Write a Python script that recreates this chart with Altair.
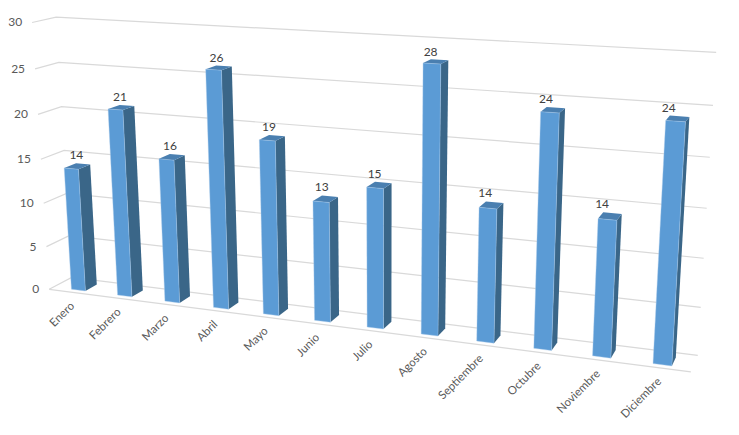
import altair as alt
import numpy as np
import pandas as pd

months = ["Enero", "Febrero", "Marzo", "Abril", "Mayo", "Junio", "Julio", "Agosto",
          "Septiembre", "Octubre", "Noviembre", "Diciembre"]
values = [14, 21, 16, 26, 19, 13, 15, 28, 14, 24, 14, 24]
ticks = [0, 5, 10, 15, 20, 25, 30]

# camera calibration of the 3-D box: (across, level 0..1, depth) -> screen
box3d = [(0,0,0),(0,0,1),(1,0,0),(1,0,1),(0,1,0),(0,1,1),(1,1,1),
         (0,.5,0),(0,.5,1),(1,.5,1)]
box2d = [(49,289),(72,278),(691,372),(698,356),(32,23),(56,17),(717,53),
         (41,159),(64,150),(705.5,207)]

A, b = [], []
for (X, Y, Z), (sx, sy) in zip(box3d, box2d):
    A.append([X, Y, Z, 1, 0, 0, 0, 0, -sx*X, -sx*Y, -sx*Z]); b.append(sx)
    A.append([0, 0, 0, 0, X, Y, Z, 1, -sy*X, -sy*Y, -sy*Z]); b.append(sy)
P = np.linalg.lstsq(np.array(A, float), np.array(b, float), rcond=None)[0]
P = np.append(P, 1).reshape(3, 4)

def project(u, v, w):
    p = P @ np.array([u, v / 30, w, 1.0])
    return float(p[0] / p[2]), float(p[1] / p[2])

BAR_W = 0.305
W0, W1 = 0.2, 0.72

grid, faces, vlabels, mlabels, tlabels = [], [], [], [], []
for t in ticks:
    for k, (u, w) in enumerate([(0, 0), (0, 1), (1, 1)]):
        x, y = project(u, t, w)
        grid.append({"id": f"g{t}", "o": k, "x": x, "y": y})
    x, y = project(0, t, 0)
    tlabels.append({"x": x - 10, "y": y, "t": str(t)})
for k, u in enumerate([0, 1]):
    x, y = project(u, 0, 0)
    grid.append({"id": "front", "o": k, "x": x, "y": y})

def add_face(fid, kind, corners):
    for k, c in enumerate(corners):
        x, y = project(*c)
        faces.append({"id": fid, "kind": kind, "o": k, "x": x, "y": y})

for i, (m, val) in enumerate(zip(months, values)):
    c = 0.0035 + (i + 0.5) / 12 * (1 - 0.0019)
    hw = BAR_W / 12 / 2
    l, r = c - hw, c + hw
    add_face(f"s{i}", "side", [(r,0,W0),(r,0,W1),(r,val,W1),(r,val,W0)])
    add_face(f"t{i}", "top", [(l,val,W0),(r,val,W0),(r,val,W1),(l,val,W1)])
    add_face(f"f{i}", "front", [(l,0,W0),(r,0,W0),(r,val,W0),(l,val,W0)])
    x, y = project(c, val, 1)
    vlabels.append({"x": x - 13, "y": y - 6, "t": str(val)})
    x, y = project(c, 0, 0)
    mlabels.append({"x": x - 1, "y": y + 12, "t": m})

faces = pd.DataFrame(faces)

X = alt.X("x:Q", scale=alt.Scale(domain=[8, 731], nice=False, zero=False), axis=None)
Y = alt.Y("y:Q", scale=alt.Scale(domain=[427, 8], nice=False, zero=False), axis=None)

grid_layer = alt.Chart(pd.DataFrame(grid)).mark_line(color="#D9D9D9", strokeWidth=1.2).encode(
    x=X, y=Y, detail="id:N", order="o:Q")
back_layer = alt.Chart(faces[faces.kind != "front"]).mark_line(
    interpolate="linear-closed", filled=True, strokeWidth=0).encode(
    x=X, y=Y, detail="id:N", order="o:Q",
    fill=alt.Fill("kind:N", legend=None, scale=alt.Scale(
        domain=["side", "top"], range=["#3A6688", "#4A7FB0"])))
front_layer = alt.Chart(faces[faces.kind == "front"]).mark_line(
    interpolate="linear-closed", filled=True, fill="#5B9BD5",
    stroke="#A9CBEA", strokeWidth=1, strokeOpacity=0.4).encode(
    x=X, y=Y, detail="id:N", order="o:Q")
val_layer = alt.Chart(pd.DataFrame(vlabels)).mark_text(
    font="Lato", fontSize=12, color="#404040").encode(x=X, y=Y, text="t:N")
tick_layer = alt.Chart(pd.DataFrame(tlabels)).mark_text(
    font="Lato", fontSize=12, color="#595959", align="right").encode(x=X, y=Y, text="t:N")
month_layer = alt.Chart(pd.DataFrame(mlabels)).mark_text(
    font="Lato", fontSize=11.5, color="#595959", align="right", angle=315).encode(x=X, y=Y, text="t:N")

chart = alt.layer(grid_layer, back_layer, front_layer, val_layer, tick_layer, month_layer).properties(
    width=723, height=419, padding=0, autosize=alt.AutoSizeParams(type="none")
).configure_view(stroke=None)

chart.save("out.html", embed_options={"renderer": "svg", "actions": False})
